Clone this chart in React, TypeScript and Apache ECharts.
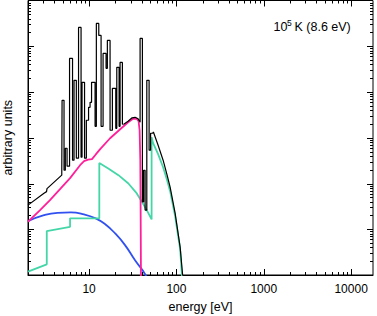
import React, { useEffect, useRef } from "react";
import * as echarts from "echarts";

// energy range of the x axis [eV] and y range (arbitrary units)
const X_MIN = 2;
const X_MAX = 17800;
const Y_MIN = 1;
const Y_MAX = 1e6;

const X_TICK_LABELS = [10, 100, 1000, 10000];
const X_DECADES = [1, 10, 100, 1000, 10000];
const Y_DECADES = [1, 10, 100, 1000, 10000, 100000];
const MINOR_MULT = [2, 3, 4, 5, 6, 7, 8, 9];

// blue component [energy eV, value]
const blueCurve: [number, number][] = [
  [2.0, 15.1], [3.05, 20.4], [4.34, 22.9], [6.17, 23.3], [8.76, 21.1],
  [11.9, 17.3], [15.2, 13.0], [19.9, 8.1], [25.8, 4.5], [33.6, 2.1],
  [43.8, 1.04], [47, 0.7],
];

// green component
const greenCurve: [number, number][] = [
  [2.0, 1.18], [3.28, 1.71], [3.28, 9.12], [6.06, 11.3], [6.06, 17.3],
  [13.1, 17.3], [13.1, 282], [16.6, 213], [21.7, 152], [28.2, 100],
  [35.2, 60.6], [40.2, 39.8], [45.8, 26.2], [52.0, 16.4], [52.0, 1026],
  [54.1, 759], [61.7, 437], [70.4, 227], [78.3, 118], [84.7, 68],
  [96.6, 19.4], [110.3, 3.7], [115.6, 1], [117.2, 0.285],
];

// pink component
const pinkCurve: [number, number][] = [
  [2.0, 14.6], [2.75, 26.2], [3.57, 43.3], [4.65, 75.2], [6.06, 131],
  [7.89, 251], [8.76, 307], [9.74, 331], [10.8, 340], [12.0, 437],
  [13.4, 562], [17.4, 976], [22.7, 1533], [28.0, 2181], [31.9, 2599],
  [35.0, 2625], [36.9, 2293], [37.9, 1458], [38.6, 323], [39.0, 15.9],
  [39.4, 0.285],
];

// total spectrum (black histogram)
const totalSpectrum: [number, number][] = [
  [2.0, 33.7], [3.05, 61.5], [3.26, 66.4], [3.30, 77.2], [4.87, 152],
  [4.91, 152], [4.91, 6580], [5.17, 6580], [5.17, 195],
  [5.35, 195], [5.35, 590], [5.60, 590], [5.60, 239],
  [5.98, 239], [5.98, 54300], [6.47, 54300], [6.47, 323],
  [6.73, 323], [6.73, 18000], [7.15, 18000], [7.15, 357],
  [7.58, 357], [7.58, 258000], [8.10, 258000], [8.10, 376],
  [8.31, 376], [8.31, 16300], [8.88, 16300], [8.88, 357],
  [9.31, 357], [9.31, 2410], [9.87, 2410], [9.87, 4630], [10.27, 4630],
  [10.27, 5960], [10.68, 5960], [10.68, 16300], [11.72, 16300], [11.72, 1780],
  [12.12, 1780], [12.12, 315000], [12.92, 315000], [12.92, 172500],
  [13.73, 172500], [13.73, 1780],
  [14.47, 1780], [14.47, 69800], [15.66, 69800], [15.66, 32900],
  [16.20, 32900], [16.20, 134000], [17.40, 134000], [17.40, 1460],
  [18.49, 1460], [18.49, 12000], [20.22, 12000], [20.22, 1610],
  [20.77, 1610], [20.77, 34600], [22.07, 34600], [22.07, 1780],
  [22.65, 1780], [22.65, 44400], [24.07, 44400], [24.07, 1970],
  [25.18, 2000], [27.97, 2290], [31.09, 2730], [33.65, 2800],
  [36.42, 2600], [38.39, 2180],
  [38.39, 148000], [40.79, 148000], [40.79, 39.8], [42.11, 39.8],
  [42.11, 195], [43.80, 195], [43.80, 26.2], [45.82, 26.2],
  [45.82, 18000], [48.68, 18000], [48.68, 534], [50.64, 534],
  [50.64, 1254], [53.38, 1254],
  [54.52, 1339], [61.72, 687], [70.42, 323], [78.26, 152], [84.73, 83.2],
  [96.64, 22.5], [110.3, 4.08], [117.8, 1], [119.4, 0.285],
];

const FONT = "'Liberation Sans', Arial, Helvetica, sans-serif";

function ticksFor(decades: number[], lo: number, hi: number) {
  const out: [number, number][] = [];
  decades.forEach((d) => {
    if (d > lo && d < hi) out.push([d, 6]);
    MINOR_MULT.forEach((m) => {
      const v = m * d;
      if (v > lo && v < hi) out.push([v, 3]);
    });
  });
  return out;
}

export default function App() {
  const ref = useRef<HTMLDivElement>(null);
  useEffect(() => {
    if (!ref.current) return;
    const chart = echarts.init(ref.current, null, { renderer: "svg" });
    const xTicks = ticksFor(X_DECADES, X_MIN, X_MAX);
    const yTicks = ticksFor(Y_DECADES, Y_MIN, Y_MAX);
    const line = (data: [number, number][], color: string, width: number, z: number, smooth = false) => ({
      type: "line",
      data,
      showSymbol: false,
      symbol: "none",
      smooth,
      clip: true,
      z,
      lineStyle: { color, width },
      silent: true,
    });
    chart.setOption({
      animation: false,
      backgroundColor: "#fff",
      grid: {
        left: 28, right: 4, top: 0.5, bottom: 41,
        containLabel: false, outerBoundsMode: "none",
        show: true, borderColor: "#000", borderWidth: 1,
      },
      xAxis: {
        type: "log",
        logBase: 10,
        min: X_MIN,
        max: X_MAX,
        name: "energy [eV]",
        nameLocation: "middle",
        nameGap: 25,
        nameTextStyle: { color: "#000", fontSize: 12.5, fontFamily: FONT },
        axisLine: { show: true, lineStyle: { color: "#000", width: 1 } },
        axisTick: { show: false },
        splitLine: { show: false },
        minorTick: { show: false },
        axisLabel: {
          color: "#000",
          fontSize: 12,
          fontFamily: FONT,
          margin: 8,
          showMinLabel: false,
          showMaxLabel: false,
          formatter: (v: number) => {
            const r = Math.round(v);
            return X_TICK_LABELS.includes(r) ? String(r) : "";
          },
        },
      },
      yAxis: {
        type: "log",
        logBase: 10,
        min: Y_MIN,
        max: Y_MAX,
        name: "arbitrary units",
        nameLocation: "middle",
        nameGap: 14,
        nameTextStyle: { color: "#000", fontSize: 12.5, fontFamily: FONT },
        axisLine: { show: true, lineStyle: { color: "#000", width: 1 } },
        axisTick: { show: false },
        axisLabel: { show: false },
        splitLine: { show: false },
      },
      graphic: [
        { type: "text", x: 273.5, y: 27, style: { text: "10", font: `12.5px ${FONT}`, fill: "#000", verticalAlign: "middle" } },
        { type: "text", x: 287, y: 22.5, style: { text: "5", font: `8.5px ${FONT}`, fill: "#000", verticalAlign: "middle" } },
        { type: "text", x: 294.5, y: 27, style: { text: "K (8.6 eV)", font: `12.5px ${FONT}`, fill: "#000", verticalAlign: "middle" } },
      ],
      series: [
        line(blueCurve, "#3050f0", 1.8, 2, true),
        line(greenCurve, "#45d6a8", 1.8, 3),
        line(pinkCurve, "#ff1f9a", 1.8, 4),
        line(totalSpectrum, "#000", 1.2, 5),
        {
          type: "custom",
          silent: true,
          clip: false,
          z: 10,
          data: xTicks,
          renderItem: (params: any, api: any) => {
            const cs = params.coordSys;
            const x = Math.round(api.coord([api.value(0), Y_MIN])[0]) + 0.5;
            const len = api.value(1);
            const b = cs.y + cs.height;
            return {
              type: "group",
              children: [
                { type: "line", shape: { x1: x, y1: b, x2: x, y2: b - len }, style: { stroke: "#000", lineWidth: 1 } },
                { type: "line", shape: { x1: x, y1: cs.y, x2: x, y2: cs.y + len }, style: { stroke: "#000", lineWidth: 1 } },
              ],
            };
          },
        },
        {
          type: "custom",
          silent: true,
          clip: false,
          z: 10,
          data: yTicks.map(([v, len]) => [X_MIN, v, len]),
          renderItem: (params: any, api: any) => {
            const cs = params.coordSys;
            const y = Math.round(api.coord([X_MIN, api.value(1)])[1]) + 0.5;
            const len = api.value(2);
            const r = cs.x + cs.width;
            return {
              type: "group",
              children: [
                { type: "line", shape: { x1: cs.x, y1: y, x2: cs.x + len, y2: y }, style: { stroke: "#000", lineWidth: 1 } },
                { type: "line", shape: { x1: r, y1: y, x2: r - len, y2: y }, style: { stroke: "#000", lineWidth: 1 } },
              ],
            };
          },
        },
      ],
    });
    return () => chart.dispose();
  }, []);
  return (
    <div
      ref={ref}
      style={{ position: "absolute", left: 0, top: 0, width: 377, height: 316 }}
    />
  );
}
